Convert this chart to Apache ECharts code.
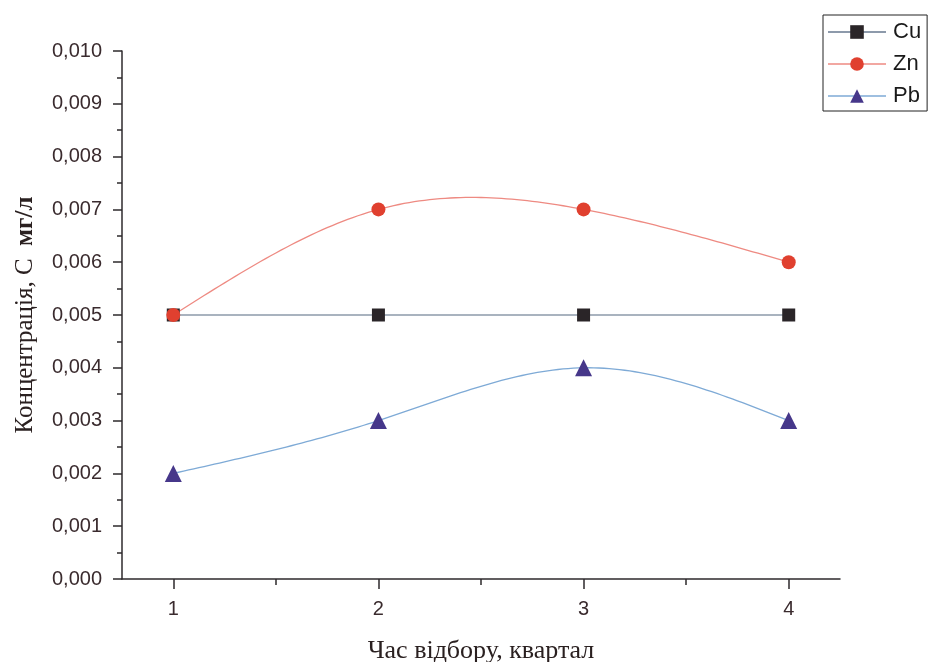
<!DOCTYPE html>
<html>
<head>
<meta charset="utf-8">
<script src="https://cdn.jsdelivr.net/npm/echarts@6/dist/echarts.min.js"></script>
<style>html,body{margin:0;padding:0;background:#fff}#c{width:930px;height:662px}</style>
</head>
<body>
<div id="c"></div>
<script>
var quarters = [1, 2, 3, 4];
var cu = [0.005, 0.005, 0.005, 0.005];
var zn = [0.005, 0.007, 0.007, 0.006];
var pb = [0.002, 0.003, 0.004, 0.003];
var xMajorTicks = [1, 2, 3, 4];
var xMinorTicks = [1.5, 2.5, 3.5];

function pairs(xs, ys) { return xs.map(function (x, i) { return [x, ys[i]]; }); }

// natural cubic spline second derivatives (as the original plotting program draws the curve)
function splineM(xs, ys) {
  var n = xs.length, M = new Array(n).fill(0);
  if (n < 3) return M;
  var a = [], b = [], c = [], d = [];
  for (var i = 1; i < n - 1; i++) {
    var h0 = xs[i] - xs[i - 1], h1 = xs[i + 1] - xs[i];
    a.push(h0); b.push(2 * (h0 + h1)); c.push(h1);
    d.push(6 * ((ys[i + 1] - ys[i]) / h1 - (ys[i] - ys[i - 1]) / h0));
  }
  var m = b.length;
  for (var k = 1; k < m; k++) {
    var w = a[k] / b[k - 1];
    b[k] -= w * c[k - 1]; d[k] -= w * d[k - 1];
  }
  var sol = new Array(m);
  sol[m - 1] = d[m - 1] / b[m - 1];
  for (var k2 = m - 2; k2 >= 0; k2--) sol[k2] = (d[k2] - c[k2] * sol[k2 + 1]) / b[k2];
  for (var j = 0; j < m; j++) M[j + 1] = sol[j];
  return M;
}

function splineSeries(name, xs, ys, color) {
  var M = splineM(xs, ys);
  return {
    name: name + ' curve', type: 'custom', data: pairs(xs, ys),
    encode: { x: 0, y: 1 }, silent: true, z: 2,
    renderItem: function (params, api) {
      var i = params.dataIndex;
      if (i >= xs.length - 1) return { type: 'group', children: [] };
      var x0 = xs[i], x1 = xs[i + 1], h = x1 - x0, pts = [];
      for (var s = 0; s <= 40; s++) {
        var x = x0 + h * s / 40, A = (x1 - x) / h, B = (x - x0) / h;
        var y = A * ys[i] + B * ys[i + 1] + ((A * A * A - A) * M[i] + (B * B * B - B) * M[i + 1]) * h * h / 6;
        pts.push(api.coord([x, y]));
      }
      return { type: 'polyline', shape: { points: pts }, style: { stroke: color, lineWidth: 1.3, fill: null } };
    }
  };
}

var chart = echarts.init(document.getElementById('c'));
var axisColor = '#2e2a2c';
var labelColor = '#3a2b2e';
var znLine = '#ee8a82', pbLine = '#7eaad6', cuLine = '#8d9aab';
chart.setOption({
  animation: false,
  backgroundColor: '#fff',
  grid: { left: 122, right: 90, top: 51, bottom: 83, containLabel: false, outerBoundsMode: 'none' },
  legend: {
    orient: 'vertical', left: 823, top: 15,
    padding: [6, 6, 4, 4],
    itemGap: 10,
    itemWidth: 58, itemHeight: 17,
    borderColor: '#222', borderWidth: 1,
    textStyle: { fontFamily: 'Liberation Sans', fontSize: 22, color: '#1a1a1a', lineHeight: 22, padding: [0, 0, 0, 2] },
    data: [
      { name: 'Cu' },
      { name: 'Zn', lineStyle: { color: znLine, width: 1.3, opacity: 1 } },
      { name: 'Pb', lineStyle: { color: pbLine, width: 1.3, opacity: 1 } }
    ]
  },
  xAxis: [{
    type: 'value', min: 0.75, max: 4.25,
    name: 'Час відбору, квартал', nameLocation: 'middle', nameGap: 59,
    nameTextStyle: { fontFamily: 'Liberation Serif', fontSize: 26, color: '#2a2020' },
    axisLine: { show: true, onZero: false, lineStyle: { color: axisColor, width: 1.5 } },
    axisTick: { show: true, customValues: xMajorTicks, length: 10, lineStyle: { color: axisColor, width: 1.5 } },
    axisLabel: { customValues: xMajorTicks, margin: 20, fontFamily: 'Liberation Sans', fontSize: 20, color: labelColor },
    splitLine: { show: false }
  }, {
    type: 'value', min: 0.75, max: 4.25, position: 'bottom',
    axisLine: { show: false },
    axisTick: { show: true, customValues: xMinorTicks, length: 6, lineStyle: { color: axisColor, width: 1.5 } },
    axisLabel: { show: false },
    splitLine: { show: false }
  }],
  yAxis: {
    type: 'value', min: 0, max: 0.01, interval: 0.001,
    name: 'Концентрація, С  {b|мг/л}', nameLocation: 'middle', nameGap: 84,
    nameTextStyle: { fontFamily: 'Liberation Serif', fontSize: 25, color: '#2a2020',
      rich: { b: { fontFamily: 'Liberation Serif', fontSize: 25, fontWeight: 'bold', color: '#2a2020' } } },
    axisLine: { show: true, lineStyle: { color: axisColor, width: 1.5 } },
    axisTick: { show: true, length: 9, lineStyle: { color: axisColor, width: 1.5 } },
    minorTick: { show: true, splitNumber: 2, length: 5, lineStyle: { color: axisColor, width: 1.5 } },
    axisLabel: {
      margin: 20, fontFamily: 'Liberation Sans', fontSize: 20, color: labelColor,
      formatter: function (v) { return v.toFixed(3).replace('.', ','); }
    },
    splitLine: { show: false }
  },
  series: [
    splineSeries('Zn', quarters, zn, znLine),
    splineSeries('Pb', quarters, pb, pbLine),
  {
    name: 'Cu', type: 'line', data: pairs(quarters, cu),
    symbol: 'rect', symbolSize: 13,
    itemStyle: { color: '#2a2528' },
    lineStyle: { color: cuLine, width: 1.3 },
    z: 3
  }, {
    name: 'Zn', type: 'line', data: pairs(quarters, zn),
    symbol: 'circle', symbolSize: 14,
    itemStyle: { color: '#e0402f' },
    lineStyle: { color: znLine, width: 1.3, opacity: 0 },
    z: 4
  }, {
    name: 'Pb', type: 'line', data: pairs(quarters, pb),
    symbol: 'triangle', symbolSize: 17,
    itemStyle: { color: '#46378a' },
    lineStyle: { color: pbLine, width: 1.3, opacity: 0 },
    z: 3
  }]
});
</script>
</body>
</html>
